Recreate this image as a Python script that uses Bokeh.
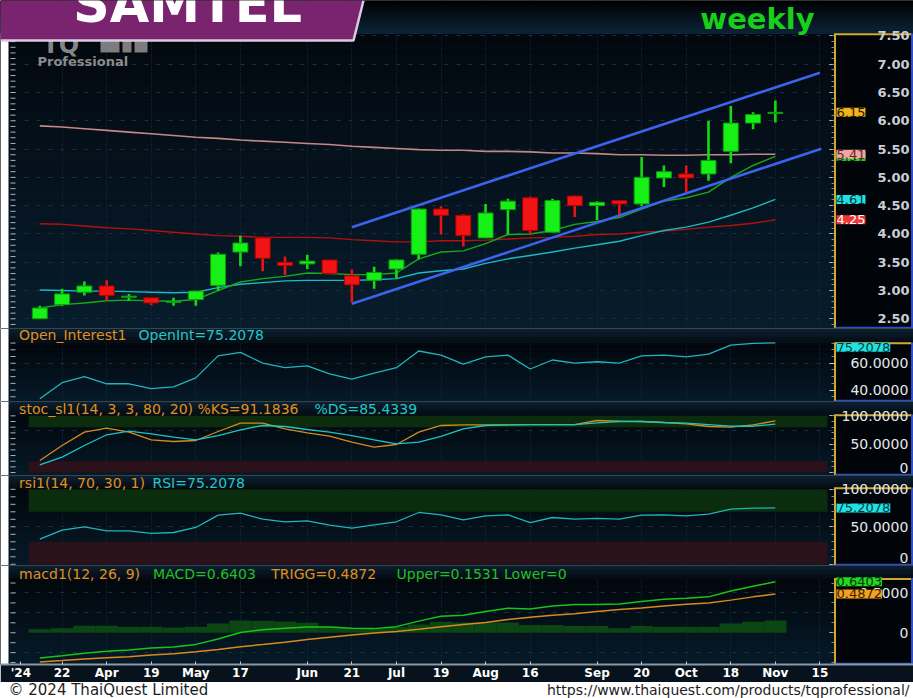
import numpy as np
from bokeh.plotting import figure
from bokeh.models import Range1d, FixedTicker, Grid, Label, LinearAxis, PrintfTickFormatter
from bokeh.core.properties import value
from bokeh.layouts import column
from bokeh.embed import file_html
from bokeh.resources import INLINE

# ---------------- data: SAMTEL weekly, 15 Mar 2024 .. 1 Nov 2024 ----------------
week_idx = list(range(34))
opens  = [2.50, 2.75, 2.97, 3.08, 2.88, 2.87, 2.79, 2.84, 3.09, 3.68, 3.93, 3.50, 3.47, 3.54, 3.26, 3.18, 3.38,
          3.64, 4.44, 4.33, 3.93, 4.43, 4.64, 4.03, 4.67, 4.50, 4.59, 4.53, 4.99, 5.06, 5.06, 5.46, 5.96, 6.13]
highs  = [2.73, 3.03, 3.16, 3.18, 2.94, 2.87, 2.87, 2.99, 3.67, 3.97, 3.94, 3.60, 3.63, 3.54, 3.37, 3.42, 3.55,
          4.45, 4.49, 4.35, 4.53, 4.62, 4.66, 4.62, 4.68, 4.58, 4.60, 5.36, 5.21, 5.21, 6.00, 6.26, 6.15, 6.36]
lows   = [2.50, 2.73, 2.91, 2.82, 2.82, 2.74, 2.73, 2.73, 3.00, 3.43, 3.34, 3.27, 3.38, 3.29, 2.79, 3.03, 3.21,
          3.55, 3.99, 3.78, 3.93, 3.99, 3.99, 4.03, 4.30, 4.24, 4.30, 4.49, 4.83, 4.74, 4.94, 5.25, 5.85, 5.97]
closes = [2.69, 2.94, 3.08, 2.91, 2.90, 2.78, 2.81, 2.99, 3.64, 3.84, 3.57, 3.44, 3.52, 3.30, 3.10, 3.32, 3.54,
          4.44, 4.33, 3.97, 4.37, 4.58, 4.06, 4.59, 4.50, 4.56, 4.53, 5.00, 5.10, 4.99, 5.30, 5.96, 6.11, 6.15]

ma_green = [2.69, 2.75, 2.78, 2.82, 2.83, 2.82, 2.81, 2.84, 3.00, 3.15, 3.21, 3.25, 3.31, 3.30, 3.28, 3.28, 3.31,
            3.56, 3.68, 3.70, 3.83, 3.99, 4.00, 4.06, 4.17, 4.22, 4.29, 4.44, 4.58, 4.64, 4.74, 5.00, 5.21, 5.37]
ma_cyan  = [3.01, 3.00, 2.99, 2.99, 2.98, 2.97, 2.96, 2.97, 3.05, 3.11, 3.14, 3.17, 3.18, 3.18, 3.18, 3.19, 3.21,
            3.31, 3.35, 3.38, 3.48, 3.56, 3.62, 3.68, 3.75, 3.81, 3.87, 3.97, 4.06, 4.12, 4.21, 4.33, 4.46, 4.61]
ma_red   = [4.18, 4.17, 4.14, 4.11, 4.09, 4.06, 4.03, 4.00, 3.97, 3.96, 3.94, 3.94, 3.94, 3.93, 3.90, 3.88, 3.86,
            3.86, 3.88, 3.88, 3.89, 3.91, 3.93, 3.94, 3.96, 3.99, 4.00, 4.03, 4.05, 4.08, 4.12, 4.15, 4.19, 4.25]
ma_pink  = [5.91, 5.89, 5.86, 5.83, 5.80, 5.77, 5.74, 5.71, 5.69, 5.66, 5.64, 5.62, 5.60, 5.58, 5.55, 5.53, 5.51,
            5.49, 5.48, 5.48, 5.46, 5.46, 5.45, 5.43, 5.43, 5.42, 5.40, 5.40, 5.39, 5.39, 5.40, 5.40, 5.41, 5.41]

channel_upper_x = [14.0, 35.0]
channel_upper_y = [4.12, 6.85]
channel_lower_x = [14.0, 35.06]
channel_lower_y = [2.765, 5.505]

open_interest = [33.5, 45.5, 50.0, 44.7, 44.7, 41.1, 42.4, 49.1, 65.5, 68.1, 60.1, 56.7, 58.0, 52.1, 48.1, 52.7, 56.7,
                 69.1, 66.0, 59.3, 64.7, 66.0, 55.7, 62.4, 60.1, 61.1, 60.1, 65.5, 66.0, 64.7, 66.8, 73.5, 74.8, 75.2078]
stoch_k = [21.3, 47.7, 71.2, 78.2, 71.2, 57.8, 54.8, 56.5, 72.4, 87.0, 87.0, 77.2, 70.1, 64.1, 53.5, 44.7, 49.5,
           71.2, 83.0, 84.2, 84.2, 84.2, 84.7, 84.7, 84.7, 91.8, 90.6, 90.0, 88.3, 86.0, 81.2, 80.0, 84.2, 91.1836]
stoch_d = [13.7, 27.1, 47.7, 66.6, 72.9, 68.3, 62.3, 57.8, 65.3, 75.4, 83.0, 81.2, 75.9, 71.2, 65.3, 57.8, 50.7,
           53.5, 63.6, 77.2, 83.0, 84.2, 84.7, 84.7, 84.7, 87.7, 90.0, 90.0, 88.3, 87.0, 84.7, 81.7, 81.7, 85.4339]
rsi = [33.5, 45.5, 50.0, 44.7, 44.7, 41.1, 42.4, 49.1, 65.5, 68.1, 60.1, 56.7, 58.0, 52.1, 48.1, 52.7, 56.7,
       69.1, 66.0, 59.3, 64.7, 66.0, 55.7, 62.4, 60.1, 61.1, 60.1, 65.5, 66.0, 64.7, 66.8, 73.5, 74.8, 75.2078]
macd = [-0.317, -0.289, -0.256, -0.232, -0.216, -0.191, -0.179, -0.146, -0.078, 0.004, 0.037, 0.056, 0.073, 0.073,
        0.056, 0.052, 0.077, 0.146, 0.207, 0.220, 0.268, 0.309, 0.300, 0.337, 0.354, 0.354, 0.361, 0.394, 0.422,
        0.434, 0.451, 0.524, 0.585, 0.6403]
trigger = [-0.366, -0.350, -0.330, -0.315, -0.300, -0.280, -0.265, -0.240, -0.210, -0.175, -0.147, -0.118, -0.085,
           -0.057, -0.029, -0.004, 0.016, 0.045, 0.077, 0.105, 0.129, 0.166, 0.195, 0.220, 0.239, 0.268, 0.293,
           0.312, 0.337, 0.357, 0.373, 0.410, 0.451, 0.4872]
macd_hist = [0.044, 0.056, 0.089, 0.089, 0.077, 0.077, 0.065, 0.077, 0.117, 0.154, 0.150, 0.142, 0.126, 0.077,
             0.061, 0.056, 0.077, 0.105, 0.138, 0.130, 0.130, 0.130, 0.098, 0.098, 0.085, 0.085, 0.056, 0.085,
             0.077, 0.077, 0.077, 0.117, 0.138, 0.1531]

date_tick_pos = [-0.85, 1, 3, 5, 7, 9, 12, 14, 16, 18, 20, 22, 25, 27, 29, 31, 33, 35]
date_tick_labels = ["'24", "22", "Apr", "19", "May", "17", "Jun", "21", "Jul", "19", "Aug", "16",
                    "Sep", "20", "Oct", "18", "Nov", "15"]
grid_weeks = [1, 3, 5, 7, 9, 12, 14, 16, 18, 20, 22, 25, 27, 29, 31, 33, 35]
price_ticks = [2.5, 3.0, 3.5, 4.0, 4.5, 5.0, 5.5, 6.0, 6.5, 7.0, 7.5]

# ---------------- layout helpers ----------------
W = 913
AXIS_PX = 834                            # x pixel of the value-axis line
X_ORIGIN, X_STEP = 39.3, 22.29          # pixel of week 0, pixels per week
FONT = "DejaVu Sans"
ORANGE, CYAN, GREEN = "#e0901e", "#22c8c8", "#22c022"
FIG_SP, PUNC_SP = "\u2007", "\u2008"


def xd(px):
    return (px - X_ORIGIN) / X_STEP


X0, XR = xd(0), xd(W)


def ymap(v_ref, y_ref, ppu):
    return lambda py: v_ref + (y_ref - py) / ppu


def hexmix(c1, c2, t):
    a = [int(c1[i:i + 2], 16) for i in (1, 3, 5)]
    b = [int(c2[i:i + 2], 16) for i in (1, 3, 5)]
    return "#%02x%02x%02x" % tuple(round(a[k] + (b[k] - a[k]) * t) for k in range(3))


def gradient(p, yd, py_top, py_bot, c_top, c_bot, n=20, level="image"):
    edges = np.linspace(py_top, py_bot, n + 1)
    cols = [hexmix(c_top, c_bot, (k + 0.5) / n) for k in range(n)]
    r = p.quad(left=X0, right=XR, top=[yd(e) for e in edges[:-1]], bottom=[yd(e) for e in edges[1:]],
               fill_color=cols, line_color=cols, line_width=1)
    r.level = level


def rpad(s, ref="100.0000"):
    nd = sum(ch.isdigit() for ch in ref) - sum(ch.isdigit() for ch in s)
    npun = ref.count(".") - s.count(".")
    return FIG_SP * nd + PUNC_SP * npun + s


def pane_fig(height, yd, top_px, frame_bot_px, bottom_border=0, date_axis=False):
    p = figure(width=W, height=height, x_range=Range1d(X0, XR),
               y_range=Range1d(yd(frame_bot_px), yd(top_px)),
               x_axis_location="below" if date_axis else None, y_axis_location=None,
               toolbar_location=None, output_backend="svg",
               min_border_left=0, min_border_right=0, min_border_top=0, min_border_bottom=bottom_border,
               background_fill_color="#03080e", border_fill_color="#07121c", outline_line_color=None)
    p.xgrid.visible = False
    p.ygrid.visible = False
    return p


def value_axis(p, ticks, minor, labels=None, fmt=None, size="14px", bold=False, standoff=7,
               color="#e4e8ec"):
    ax = LinearAxis(fixed_location=xd(AXIS_PX))
    ax.ticker = FixedTicker(ticks=ticks, minor_ticks=minor)
    if labels is not None:
        ax.major_label_overrides = {t: s for t, s in zip(ticks, labels)}
    if fmt is not None:
        ax.formatter = PrintfTickFormatter(format=fmt)
    ax.axis_line_color = None
    ax.major_tick_in, ax.major_tick_out = 5, 0
    ax.minor_tick_in, ax.minor_tick_out = 3, 0
    ax.major_tick_line_color = "#c8d0d8"
    ax.minor_tick_line_color = "#7f8c99"
    ax.major_label_standoff = standoff
    ax.major_label_text_font = FONT
    ax.major_label_text_font_size = size
    ax.major_label_text_font_style = "bold" if bold else "normal"
    ax.major_label_text_color = color
    p.add_layout(ax, "right")


def add_grids(p, hticks, hdash="4 8"):
    p.add_layout(Grid(dimension=0, ticker=FixedTicker(ticks=grid_weeks), grid_line_color="#1a3042",
                      grid_line_dash="1 2", grid_line_width=1))
    if hticks:
        p.add_layout(Grid(dimension=1, ticker=FixedTicker(ticks=hticks), grid_line_color="#1a3042",
                          grid_line_dash=hdash, grid_line_width=1))


def frame_decor(p, yd, strip_top_px, pane_top_px, pane_bot_px, ruler_vals):
    # white page margin, left ruler, value-axis box (yellow left/top, blue right/bottom)
    p.quad(left=X0, right=xd(8), top=yd(strip_top_px), bottom=yd(pane_bot_px), fill_color="white",
           line_color=None)
    p.segment(x0=xd(10), x1=xd(15), y0=ruler_vals, y1=ruler_vals, line_color="#aab4be", line_width=1)
    p.quad(left=[xd(AXIS_PX)], right=[XR], top=[yd(pane_top_px)], bottom=[yd(pane_bot_px)],
           fill_color="#010409", line_color=None)
    p.segment(x0=[xd(AXIS_PX + 0.5), xd(AXIS_PX)], x1=[xd(AXIS_PX + 0.5), xd(911)],
              y0=[yd(pane_top_px), yd(pane_top_px + 0.8)], y1=[yd(pane_bot_px), yd(pane_top_px + 0.8)],
              line_color="#d4a82a", line_width=2)
    p.segment(x0=[xd(911.5), xd(AXIS_PX + 1)], x1=[xd(911.5), xd(912)],
              y0=[yd(pane_top_px), yd(pane_bot_px - 0.8)], y1=[yd(pane_bot_px), yd(pane_bot_px - 0.8)],
              line_color="#2b4fd0", line_width=2)


def title_bar(p, yd, top_px, bot_px, parts, center_px):
    gradient(p, yd, top_px, bot_px, "#0e2233", "#050d15", n=6, level="glyph")
    for text, px, color in parts:
        p.add_layout(Label(x=xd(px), y=yd(center_px), text=text, text_font=FONT, text_font_size="14px",
                           text_color=color, text_baseline="middle"))


def badge(p, val, text, bg, fg, baseline="middle"):
    p.add_layout(Label(x=xd(AXIS_PX + 2), y=val, text=text, text_font=FONT,
                       text_font_size="13px", text_color=fg, background_fill_color=bg,
                       text_baseline=baseline, text_align="left"))


def bands(p, levels):
    for lo, hi, col in levels:
        p.quad(left=week_idx[0] - 0.5, right=xd(827), bottom=lo, top=hi, fill_color=col, line_color=None)


# ---------------- main price pane (with header) ----------------
yd_main = ymap(6.0, 120.3, 56.57)
main = pane_fig(328, yd_main, 0, 328)
gradient(main, yd_main, 33, 328, "#03080e", "#071d2d", n=30)
gradient(main, yd_main, 0, 33, "#000000", "#0b2437", n=12, level="glyph")
add_grids(main, price_ticks)
main_ruler = [round(2.4 + 0.1 * k, 2) for k in range(52)]
frame_decor(main, yd_main, 33, 33, 328, main_ruler)
value_axis(main, price_ticks, main_ruler, fmt="%.2f", size="13px", bold=True, standoff=43, color="#c9ced4")

# logo (under the banner)
main.text(x=[xd(42)], y=[yd_main(44)], text=["TQ"], text_font=value(FONT), text_font_size=value("24px"),
          text_font_style="bold", text_color="#858585", text_baseline="middle")
main.quad(left=[xd(100), xd(122), xd(134)], right=[xd(119), xd(131), xd(147)],
          top=yd_main(40), bottom=yd_main(52), fill_color="#7d7d7d", line_color=None)
main.add_layout(Label(x=xd(37), y=yd_main(61), text="Professional", text_font=FONT, text_font_size="13px",
                      text_font_style="bold", text_color="#8c8c8c", text_baseline="middle"))

# moving averages
main.line(week_idx, ma_pink, line_color="#c48888", line_width=1.6)
main.line(week_idx, ma_red, line_color="#b41010", line_width=1.4)
main.line(week_idx, ma_cyan, line_color="#1bb9c2", line_width=1.4)
main.line(week_idx, ma_green, line_color="#1aa81a", line_width=1.4)

# candles
up = [c >= o for o, c in zip(opens, closes)]
wick_col = ["#14dc14" if u else "#ec1212" for u in up]
body_fill = ["#16f016" if u else "#f21414" for u in up]
body_line = ["#0a9c0a" if u else "#b00000" for u in up]
main.segment(x0=week_idx, y0=highs, x1=week_idx, y1=lows, line_color=wick_col, line_width=2.6)
main.vbar(x=week_idx, width=0.67, top=[max(o, c) for o, c in zip(opens, closes)],
          bottom=[min(o, c) for o, c in zip(opens, closes)], fill_color=body_fill, line_color=body_line,
          line_width=1)

# channel
main.line(channel_upper_x, channel_upper_y, line_color="#3b63ee", line_width=2.6)
main.line(channel_lower_x, channel_lower_y, line_color="#3b63ee", line_width=2.6)

# banner
main.patch(x=[xd(0), xd(363), xd(353), xd(0)], y=[yd_main(0), yd_main(0), yd_main(40), yd_main(40)],
           fill_color="#7a2470", line_color=None)
main.line(x=[xd(0), xd(353), xd(363)], y=[yd_main(40), yd_main(40), yd_main(0)], line_color="#d6cbe0",
          line_width=2.5)
main.add_layout(Label(x=xd(187), y=yd_main(3.5), text="SAMTEL", text_font=FONT, text_font_size="51px",
                      text_font_style="bold", text_color="white", text_align="center",
                      text_baseline="middle"))
main.add_layout(Label(x=xd(757), y=yd_main(18), text="weekly", text_font=FONT, text_font_size="29px",
                      text_font_style="bold", text_color="#18d018", text_align="center",
                      text_baseline="middle"))

badge(main, ma_green[-1], "%.2f" % ma_green[-1], "#22cc22", "#063806")
badge(main, closes[-1], "%.2f" % closes[-1], "#f4b21c", "#2a1c00")
badge(main, ma_pink[-1], "%.2f" % ma_pink[-1], "#f4a3a3", "#5a2a2a")
badge(main, ma_cyan[-1], "%.2f" % ma_cyan[-1], "#1fe3e3", "#053a40")
badge(main, ma_red[-1], "%.2f" % ma_red[-1], "#f03535", "#ffffff")

# ---------------- open interest pane ----------------
yd_oi = ymap(75.2078, 342.3, 1.343)
oi = pane_fig(73, yd_oi, 328, 401)
gradient(oi, yd_oi, 342, 401, "#02070c", "#061a28", n=12)
add_grids(oi, [60])
title_bar(oi, yd_oi, 328, 342, [("Open_Interest1", 18.6, ORANGE),
                                ("OpenInt=%.4f" % open_interest[-1], 138, CYAN)], 334.5)
frame_decor(oi, yd_oi, 328, 342, 401, [35, 40, 45, 50, 55, 60, 65, 70, 75])
value_axis(oi, [40, 60], [35, 45, 50, 55, 65, 70, 75], labels=[rpad("40.0000"), rpad("60.0000")])
oi.line(week_idx, open_interest, line_color="#1fb5bd", line_width=1.3)
badge(oi, open_interest[-1], "%.4f" % open_interest[-1], "#1fe3e3", "#053a40", baseline="top")

# ---------------- stochastic pane ----------------
yd_st = ymap(50, 443.7, 0.567)
st = pane_fig(74, yd_st, 401, 475)
gradient(st, yd_st, 414, 475, "#02070c", "#061a28", n=12)
add_grids(st, [75])
title_bar(st, yd_st, 401, 414, [("stoc_sl1(14, 3, 3, 80, 20) %%KS=%.4f" % stoch_k[-1], 18.6, ORANGE),
                                ("%%DS=%.4f" % stoch_d[-1], 314, CYAN)], 408)
frame_decor(st, yd_st, 401, 414, 475, list(range(0, 101, 10)))
value_axis(st, [0, 50, 100], list(range(0, 101, 10)), labels=[rpad("0"), rpad("50.0000"), rpad("100.0000")])
bands(st, [(80, 100, "#0b2c0d"), (0, 20, "#2b1119")])
st.line(week_idx, stoch_k, line_color="#d58a1e", line_width=1.3)
st.line(week_idx, stoch_d, line_color="#1cc4c4", line_width=1.3)

# ---------------- RSI pane ----------------
yd_rsi = ymap(50, 526.3, 0.75)
rs = pane_fig(90, yd_rsi, 475, 565)
gradient(rs, yd_rsi, 487, 565, "#02070c", "#061a28", n=14)
add_grids(rs, [50])
title_bar(rs, yd_rsi, 475, 487, [("rsi1(14, 70, 30, 1)", 18.6, ORANGE),
                                 ("RSI=%.4f" % rsi[-1], 152, CYAN)], 482)
frame_decor(rs, yd_rsi, 475, 487, 565, list(range(0, 101, 10)))
value_axis(rs, [0, 50, 100], list(range(0, 101, 10)), labels=[rpad("0"), rpad("50.0000"), rpad("100.0000")])
bands(rs, [(70, 100, "#0b2c0d"), (0, 30, "#2b1119")])
rs.line(week_idx, rsi, line_color="#1fb5bd", line_width=1.3)
badge(rs, rsi[-1], "%.4f" % rsi[-1], "#1fe3e3", "#053a40")

# ---------------- MACD pane + date axis ----------------
yd_m = ymap(0.0, 634.3, 82.0)
mc = pane_fig(117, yd_m, 565, 667, bottom_border=15, date_axis=True)
gradient(mc, yd_m, 578, 667, "#02070c", "#061a28", n=14)
add_grids(mc, [-0.25, 0.25, 0.5])
mvals = [round(-0.375 + 0.125 * k, 3) for k in range(9)]
title_bar(mc, yd_m, 565, 578, [("macd1(12, 26, 9)", 18.6, ORANGE),
                               ("MACD=%.4f" % macd[-1], 152.6, GREEN),
                               ("TRIGG=%.4f" % trigger[-1], 270.8, ORANGE),
                               ("Upper=%.4f Lower=0" % macd_hist[-1], 396, GREEN)], 574)
frame_decor(mc, yd_m, 565, 578, 667, mvals)
value_axis(mc, [0, 0.5], mvals, labels=[rpad("0"), rpad("0.5000")])
mc.vbar(x=week_idx, width=1.0, top=macd_hist, bottom=0, fill_color="#0b4613", line_color=None)
mc.line(week_idx, trigger, line_color="#d98a1c", line_width=1.5)
mc.line(week_idx, macd, line_color="#19c419", line_width=1.5)
badge(mc, macd[-1], "%.4f" % macd[-1], "#22d822", "#063806")
badge(mc, trigger[-1], "%.4f" % trigger[-1], "#f5a01e", "#3a2000")

xa = mc.xaxis[0]
xa.ticker = FixedTicker(ticks=date_tick_pos)
xa.major_label_overrides = {t: s for t, s in zip(date_tick_pos, date_tick_labels)}
xa.axis_line_color = "#8a98a8"
xa.axis_line_width = 2
xa.major_tick_in, xa.major_tick_out = 3, 0
xa.minor_tick_line_color = None
xa.major_tick_line_color = "#c0c8d0"
xa.major_label_standoff = 1
xa.major_label_text_font = FONT
xa.major_label_text_font_size = "12px"
xa.major_label_text_font_style = "bold"
xa.major_label_text_color = "#ffffff"

# ---------------- footer ----------------
ft = figure(width=W, height=16, x_range=Range1d(0, W), y_range=Range1d(16, 0), x_axis_location=None,
            y_axis_location=None, toolbar_location=None, output_backend="svg", min_border=0,
            background_fill_color="white", border_fill_color="white", outline_line_color=None)
ft.xgrid.visible = False
ft.ygrid.visible = False
ft.add_layout(Label(x=8, y=7, text="\u00a9 2024 ThaiQuest Limited", text_font=FONT, text_font_size="15px",
                    text_color="#1e1e1e", text_baseline="middle"))
ft.add_layout(Label(x=909, y=7.5, text="https://www.thaiquest.com/products/tqprofessional/", text_font=FONT,
                    text_font_size="14px", text_color="#1e1e1e", text_baseline="middle", text_align="right"))

layout = column(main, oi, st, rs, mc, ft, spacing=0)
open("out.html", "w").write(file_html(layout, INLINE))
